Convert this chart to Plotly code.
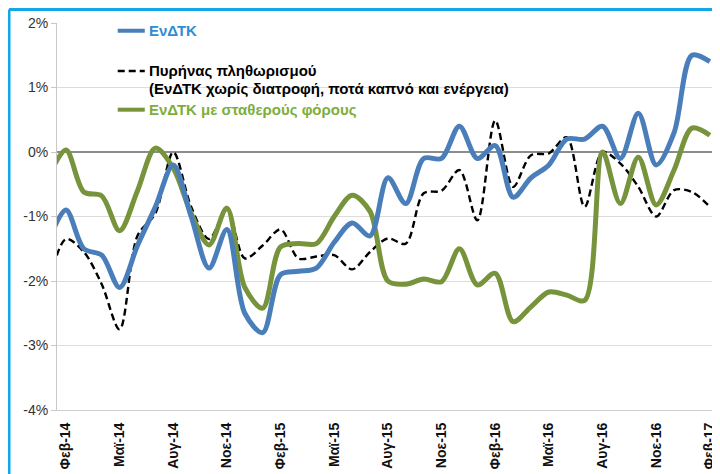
import plotly.graph_objects as go

# months Jan-14 .. Feb-17 (Jan-14 only partly visible at the left edge)
months = ['Ιαν-14', 'Φεβ-14', 'Μαρ-14', 'Απρ-14', 'Μαϊ-14', 'Ιουν-14', 'Ιουλ-14', 'Αυγ-14',
          'Σεπ-14', 'Οκτ-14', 'Νοε-14', 'Δεκ-14',
          'Ιαν-15', 'Φεβ-15', 'Μαρ-15', 'Απρ-15', 'Μαϊ-15', 'Ιουν-15', 'Ιουλ-15', 'Αυγ-15',
          'Σεπ-15', 'Οκτ-15', 'Νοε-15', 'Δεκ-15',
          'Ιαν-16', 'Φεβ-16', 'Μαρ-16', 'Απρ-16', 'Μαϊ-16', 'Ιουν-16', 'Ιουλ-16', 'Αυγ-16',
          'Σεπ-16', 'Οκτ-16', 'Νοε-16', 'Δεκ-16',
          'Ιαν-17', 'Φεβ-17']

tick_months = ['Φεβ-14', 'Μαϊ-14', 'Αυγ-14', 'Νοε-14', 'Φεβ-15', 'Μαϊ-15', 'Αυγ-15',
               'Νοε-15', 'Φεβ-16', 'Μαϊ-16', 'Αυγ-16', 'Νοε-16', 'Φεβ-17']

# ΕνΔΤΚ, annual % change
hicp = [-1.4, -0.9, -1.5, -1.6, -2.1, -1.45, -0.85, -0.2, -1.0, -1.8, -1.2, -2.5,
        -2.8, -1.9, -1.85, -1.8, -1.4, -1.1, -1.3, -0.4, -0.8, -0.1, -0.1, 0.4,
        -0.1, 0.1, -0.7, -0.4, -0.2, 0.2, 0.2, 0.4, -0.1, 0.6, -0.2, 0.3,
        1.5, 1.4]

# core inflation
core = [-2.1, -1.35, -1.55, -2.05, -2.75, -1.3, -0.95, 0.0, -0.85, -1.35, -0.9, -1.65,
        -1.45, -1.2, -1.65, -1.62, -1.6, -1.82, -1.55, -1.34, -1.42, -0.64, -0.6, -0.28,
        -1.06, 0.49, -0.54, -0.05, -0.02, 0.23, -0.85, 0.0, -0.18, -0.54, -1.0, -0.59,
        -0.62, -0.85]

# ΕνΔΤΚ at constant taxes
const_tax = [-0.4, 0.03, -0.62, -0.68, -1.22, -0.6, 0.06, -0.25, -0.95, -1.44, -0.87, -2.1,
             -2.42, -1.47, -1.42, -1.42, -1.0, -0.67, -0.92, -2.0, -2.05, -1.97, -2.01, -1.5,
             -2.06, -1.88, -2.63, -2.4, -2.17, -2.22, -2.3, 0.0, -0.8, -0.08, -0.82, -0.28,
             0.37, 0.26]

blue = '#4A7EBB'
green = '#77933C'
cyan = '#12A7E6'
core_dash = '7px,4px'

fig = go.Figure()

fig.add_trace(go.Scatter(x=months, y=core, mode='lines',
                         line=dict(color='black', width=2.4, dash=core_dash, shape='spline', smoothing=0.9)))
fig.add_trace(go.Scatter(x=months, y=const_tax, mode='lines',
                         line=dict(color=green, width=5, shape='spline', smoothing=0.9)))
fig.add_trace(go.Scatter(x=months, y=hicp, mode='lines',
                         line=dict(color=blue, width=5, shape='spline', smoothing=0.9)))

# legend drawn by hand (symbol + coloured text)
lx0, lx1, tx = 0.092, 0.133, 0.136
legend_items = [
    (0.98, blue, 'solid', 4, '<b>ΕνΔΤΚ</b>', '#2F8CD6'),
    (0.876, 'black', core_dash, 2.4, '<b>Πυρήνας πληθωρισμού</b>', 'black'),
    (0.776, green, 'solid', 4, '<b>ΕνΔΤΚ με σταθερούς φόρους</b>', '#7DAE3A'),
]
for ly, col, dash, w, txt, tcol in legend_items:
    fig.add_shape(type='line', xref='paper', yref='paper', x0=lx0, x1=lx1, y0=ly, y1=ly,
                  line=dict(color=col, width=w, dash=dash))
    fig.add_annotation(xref='paper', yref='paper', x=tx, y=ly, text=txt, showarrow=False,
                       xanchor='left', yanchor='middle', font=dict(color=tcol, size=15))
fig.add_annotation(xref='paper', yref='paper', x=tx, y=0.831,
                   text='<b>(ΕνΔΤΚ χωρίς διατροφή, ποτά καπνό και ενέργεια)</b>',
                   showarrow=False, xanchor='left', yanchor='middle',
                   font=dict(color='black', size=15))

# light-blue frame around the chart
fig.add_shape(type='line', xref='paper', yref='paper', x0=-0.0727, x1=-0.0727, y0=-0.3, y1=1.035,
              line=dict(color=cyan, width=3))
fig.add_shape(type='line', xref='paper', yref='paper', x0=-0.0727, x1=1.1, y0=1.035, y1=1.035,
              line=dict(color=cyan, width=3))

# the page body adds an 8px margin, so the figure is 8px smaller than the window
fig.update_layout(
    width=712, height=466,
    margin=dict(l=49, r=3, t=14.5, b=64),
    paper_bgcolor='white', plot_bgcolor='white',
    showlegend=False,
    font=dict(family='Liberation Sans, Arial, sans-serif', color='#333333'),
)

fig.update_xaxes(
    type='category', range=[0.5, 37.4],
    tickvals=tick_months, ticktext=['<b>%s</b>' % m for m in tick_months],
    tickangle=-90, tickfont=dict(size=14, color='#111111'),
    showgrid=False, showline=True, linecolor='#D0D0D0', linewidth=1,
    ticks='', ticklabelstandoff=6,
)
fig.update_yaxes(
    range=[-4, 2],
    tickvals=[2, 1, 0, -1, -2, -3, -4], ticktext=['2%', '1%', '0%', '-1%', '-2%', '-3%', '-4%'],
    tickfont=dict(size=14, color='#333333'),
    showgrid=True, gridcolor='#DCDCDC', gridwidth=1,
    zeroline=True, zerolinecolor='#8C8C8C', zerolinewidth=2,
    showline=True, linecolor='#C8C8C8', linewidth=1,
    ticks='outside', ticklen=5, tickcolor='#C8C8C8',
)

fig.write_html("out.html")
